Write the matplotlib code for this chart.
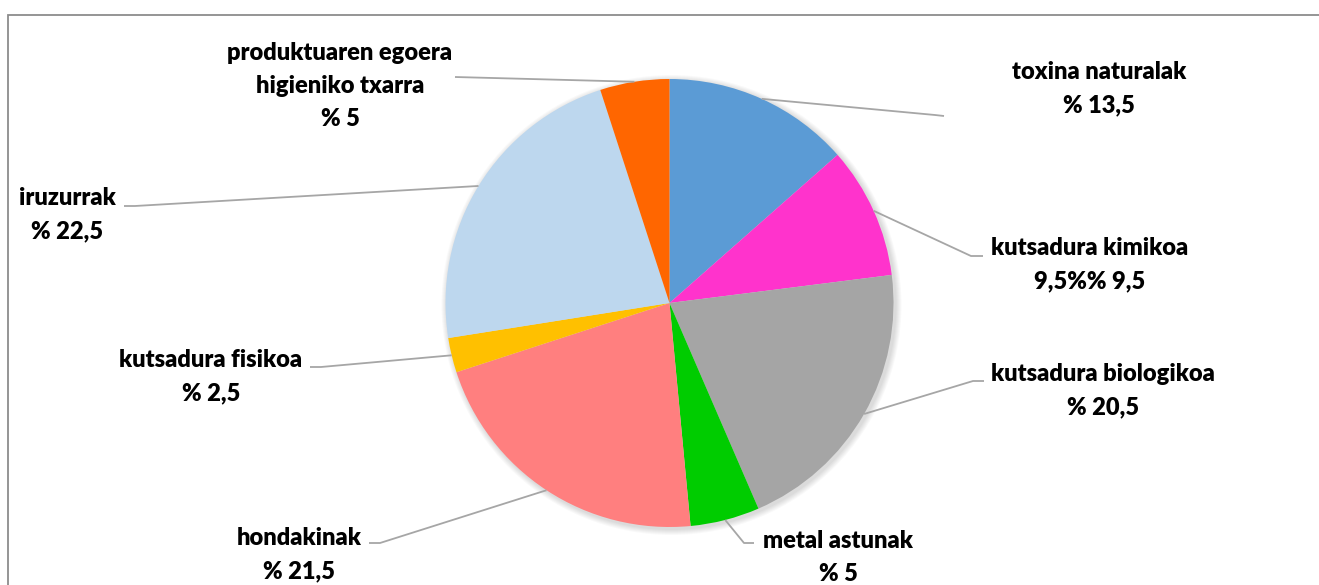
import matplotlib
matplotlib.use('Agg')
import matplotlib.pyplot as plt
import numpy as np
from matplotlib.patches import Circle, Rectangle

W, H = 1319, 585

# data
labels = ['toxina naturalak', 'kutsadura kimikoa', 'kutsadura biologikoa', 'metal astunak',
          'hondakinak', 'kutsadura fisikoa', 'iruzurrak', 'produktuaren egoera\nhigieniko txarra']
values = [13.5, 9.5, 20.5, 5, 21.5, 2.5, 22.5, 5]
value_text = ['% 13,5', '9,5%% 9,5', '% 20,5', '% 5', '% 21,5', '% 2,5', '% 22,5', '% 5']
colors = ['#5B9BD5', '#FF33CC', '#A5A5A5', '#00CC00', '#FF7F7F', '#FFC000', '#BDD7EE', '#FF6600']

# layout (pixel coords, y from top): label centre x, first line y, elbow, line end
label_pos = [(1099, 72), (1090, 248), (1103, 374), (838, 541),
             (299, 538), (211, 360), (67, 198), (340, 53)]
elbows = [(935, 115), (971, 256), (973, 381), (744, 543),
          (380, 543), (321, 367), (135, 206), (455, 77)]
ends = [(944, 116), (983, 256), (984, 381), (754, 543),
        (369, 543), (310, 367), (124, 206), (455, 77)]
cx, cy, R = 669.5, 303, 224
line_h = 33

plt.rcParams['font.family'] = ['Lato', 'DejaVu Sans']

fig = plt.figure(figsize=(W / 100, H / 100), dpi=100)
ax = fig.add_axes([0, 0, 1, 1])

def py(y):
    return H - y

# frame of the chart area
ax.add_patch(Rectangle((8, -10), W + 20, py(15) + 10, fill=False, edgecolor='#8C8C8C', lw=1.3))

# soft shadow
for i in range(6):
    ax.add_patch(Circle((cx + 2, py(cy) - 2), R + 1 + i, color='black', alpha=0.025, lw=0, zorder=1))

wedges, _ = ax.pie(values, colors=colors, startangle=90, counterclock=False,
                   center=(cx, py(cy)), radius=R, frame=True,
                   wedgeprops=dict(linewidth=0, zorder=2))
ax.set_xlim(0, W)
ax.set_ylim(0, H)
ax.set_aspect('equal')
ax.axis('off')

for i, w in enumerate(wedges):
    mid = np.deg2rad((w.theta1 + w.theta2) / 2)
    sx = cx + R * np.cos(mid)
    sy = py(cy) + R * np.sin(mid)
    ex, ey = elbows[i]
    fx, fy = ends[i]
    ax.plot([sx, ex, fx], [sy, py(ey), py(fy)], color='#A6A6A6', lw=1.3, zorder=3,
            solid_capstyle='butt')
    lines = labels[i].split('\n') + [value_text[i]]
    x0, y0 = label_pos[i]
    for k, t in enumerate(lines):
        ax.text(x0, py(y0 + k * line_h), t, ha='center', va='center',
                fontsize=17, fontweight='heavy', color='black', zorder=4)

fig.savefig('out.png', dpi=100)
